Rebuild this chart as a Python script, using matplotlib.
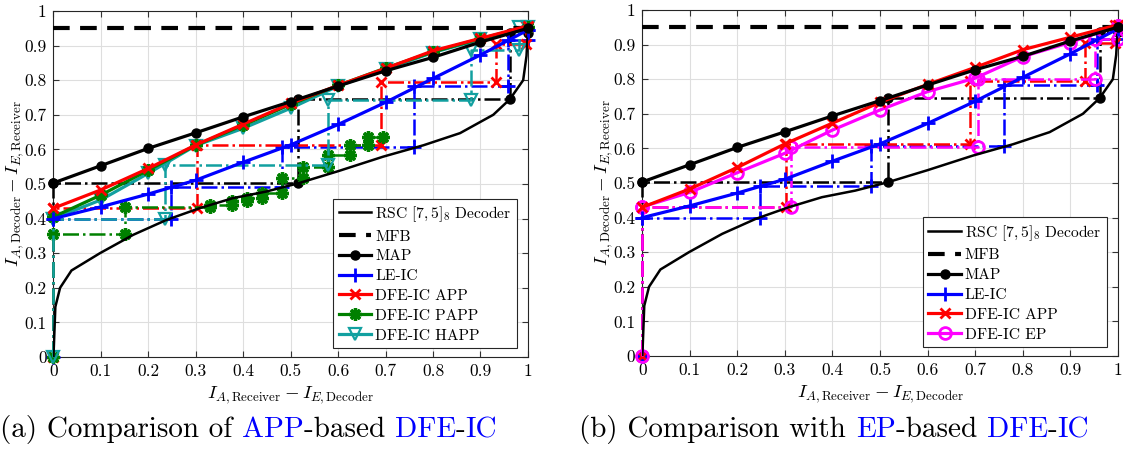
import numpy as np
import matplotlib
matplotlib.use("Agg")
from matplotlib import pyplot as plt

plt.rcParams["font.family"] = ["cmr10", "DejaVu Serif"]
plt.rcParams["mathtext.fontset"] = "cm"
plt.rcParams["axes.formatter.use_mathtext"] = True
plt.rcParams["axes.unicode_minus"] = False

# EXIT curves
x_grid = [0, 0.1, 0.2, 0.3, 0.4, 0.5, 0.6, 0.7, 0.8, 0.9, 1.0]

dec_x = [0, 0.004, 0.014, 0.038, 0.098, 0.168, 0.238, 0.308, 0.378, 0.448,
         0.516, 0.6, 0.695, 0.78, 0.857, 0.927, 0.962, 0.99, 0.997, 1.0]
dec_y = [0, 0.145, 0.2, 0.25, 0.3, 0.353, 0.396, 0.43, 0.459, 0.478,
         0.502, 0.537, 0.579, 0.612, 0.647, 0.70, 0.745, 0.80, 0.87, 0.945]

mfb_x = [0, 1.0]
mfb_y = [0.95, 0.95]

map_y = [0.503, 0.553, 0.603, 0.648, 0.694, 0.738, 0.783, 0.827, 0.866, 0.91, 0.95]
le_y = [0.40, 0.434, 0.471, 0.511, 0.563, 0.613, 0.672, 0.736, 0.805, 0.873, 0.945]
app_y = [0.43, 0.483, 0.545, 0.613, 0.673, 0.733, 0.785, 0.834, 0.885, 0.921, 0.957]
papp_y = [0.405, 0.468, 0.54, 0.612, 0.67, 0.73, 0.785, 0.835, 0.882, 0.92, 0.955]
happ_y = [0.40, 0.454, 0.531, 0.611, 0.661, 0.719, 0.783, 0.832, 0.88, 0.918, 0.955]
ep_y = [0.431, 0.473, 0.53, 0.586, 0.653, 0.711, 0.764, 0.803, 0.865, 0.906, 0.954]

# decoding trajectories
map_tx = [0, 0, 0.516, 0.516, 0.962, 0.962, 1.0, 1.0]
map_ty = [0, 0.503, 0.503, 0.745, 0.745, 0.935, 0.935, 0.95]
le_tx = [0, 0, 0.247, 0.247, 0.481, 0.481, 0.76, 0.76, 0.957, 0.957, 1.0, 1.0]
le_ty = [0, 0.40, 0.40, 0.492, 0.492, 0.608, 0.608, 0.783, 0.783, 0.916, 0.916, 0.945]
app_tx = [0, 0, 0.302, 0.302, 0.69, 0.69, 0.932, 0.932, 0.995, 0.995]
app_ty = [0, 0.43, 0.43, 0.613, 0.613, 0.796, 0.796, 0.905, 0.905, 0.957]
papp_tx = [0, 0, 0.151, 0.151, 0.33, 0.33, 0.376, 0.376, 0.407, 0.407, 0.439, 0.439,
           0.481, 0.481, 0.526, 0.526, 0.579, 0.579, 0.625, 0.625, 0.663, 0.663, 0.695]
papp_ty = [0, 0.355, 0.355, 0.434, 0.434, 0.44, 0.44, 0.45, 0.45, 0.46, 0.46, 0.475,
           0.475, 0.516, 0.516, 0.55, 0.55, 0.584, 0.584, 0.613, 0.613, 0.637, 0.637]
happ_tx = [0, 0, 0.236, 0.236, 0.578, 0.578, 0.881, 0.881, 0.982, 0.982]
happ_ty = [0, 0.40, 0.40, 0.555, 0.555, 0.742, 0.742, 0.887, 0.887, 0.955]
ep_tx = [0, 0, 0.312, 0.312, 0.706, 0.706, 0.953, 0.953, 1.0, 1.0]
ep_ty = [0, 0.431, 0.431, 0.605, 0.605, 0.80, 0.80, 0.915, 0.915, 0.954]

ticks = [0, 0.1, 0.2, 0.3, 0.4, 0.5, 0.6, 0.7, 0.8, 0.9, 1]
tick_labels = ["0", "0.1", "0.2", "0.3", "0.4", "0.5", "0.6", "0.7", "0.8", "0.9", "1"]

asterisk = (8, 2, 0)
styles = {
    "map": dict(color="k", marker="o", ms=6.5, mfc="k"),
    "le": dict(color="b", marker="+", ms=10, mew=2),
    "app": dict(color="r", marker="x", ms=6.5, mew=2),
    "papp": dict(color="green", marker=asterisk, ms=9, mew=2.4),
    "happ": dict(color="#12A0A0", marker="v", ms=8, mfc="none", mew=1.6),
    "ep": dict(color="magenta", marker="o", ms=8.5, mfc="none", mew=2),
}


def setup_axes(ax):
    ax.set_xlim(0, 1)
    ax.set_ylim(0, 1)
    ax.set_xticks(ticks)
    ax.set_xticklabels(tick_labels)
    ax.set_yticks(ticks)
    ax.set_yticklabels(tick_labels)
    ax.tick_params(direction="in", top=True, right=True, labelsize=12.5,
                   length=4, color="0.2", pad=5)
    ax.grid(True, color="0.87", lw=0.8)
    ax.set_axisbelow(True)
    for s in ax.spines.values():
        s.set_color("0.15")
        s.set_linewidth(0.8)
    ax.set_xlabel(r"$I_{A,\mathrm{Receiver}} - I_{E,\mathrm{Decoder}}$", fontsize=13.5, labelpad=4)
    ax.set_ylabel(r"$I_{A,\mathrm{Decoder}} - I_{E,\mathrm{Receiver}}$", fontsize=13.5, labelpad=-1)


def traj(ax, tx, ty, key):
    st = dict(styles[key])
    ax.plot(tx, ty, ls="-.", lw=1.8, clip_on=False, zorder=3, **st)


def curve(ax, y, key, label):
    st = dict(styles[key])
    h, = ax.plot(x_grid, y, ls="-", lw=2.3, clip_on=False, zorder=4, label=label, **st)
    return h


def draw_panel(ax, extra):
    setup_axes(ax)
    traj(ax, map_tx, map_ty, "map")
    traj(ax, le_tx, le_ty, "le")
    traj(ax, app_tx, app_ty, "app")
    if extra == "a":
        traj(ax, papp_tx, papp_ty, "papp")
        traj(ax, happ_tx, happ_ty, "happ")
    else:
        traj(ax, ep_tx, ep_ty, "ep")
    h_dec, = ax.plot(dec_x, dec_y, color="k", lw=1.8, zorder=4,
                     label=r"RSC $[7,5]_8$ Decoder")
    h_mfb, = ax.plot(mfb_x, mfb_y, color="k", lw=3, ls=(0, (4, 2.5)), zorder=4,
                     label="MFB")
    hs = [h_dec, h_mfb]
    if extra == "a":
        h_happ = curve(ax, happ_y, "happ", "DFE-IC HAPP")
        h_papp = curve(ax, papp_y, "papp", "DFE-IC PAPP")
    else:
        h_ep = curve(ax, ep_y, "ep", "DFE-IC EP")
    h_app = curve(ax, app_y, "app", "DFE-IC APP")
    h_le = curve(ax, le_y, "le", "LE-IC")
    h_map = curve(ax, map_y, "map", "MAP")
    hs += [h_map, h_le, h_app]
    if extra == "a":
        hs += [h_papp, h_happ]
    else:
        hs += [h_ep]
    leg = ax.legend(handles=hs, loc="lower right", bbox_to_anchor=(0.977, 0.026),
                    fontsize=11.2, fancybox=False, framealpha=1, edgecolor="0.15",
                    handlelength=2.1, labelspacing=0.38, borderpad=0.35,
                    handletextpad=0.25, borderaxespad=0)
    leg.get_frame().set_linewidth(0.8)
    leg.set_zorder(10)


fig = plt.figure(figsize=(11.23, 4.5), dpi=100)
ax1 = fig.add_axes([0.0476, 0.2067, 0.4225, 0.7689])
ax2 = fig.add_axes([0.5720, 0.2089, 0.4232, 0.7689])
draw_panel(ax1, "a")
draw_panel(ax2, "b")

blue = "#0000FF"
cap_a = [("(a) Comparison of ", "k"), ("APP", blue), ("-based ", "k"), ("DFE", blue),
         ("-", "k"), ("IC", blue)]
cap_b = [("(b) Comparison with ", "k"), ("EP", blue), ("-based ", "k"), ("DFE", blue),
         ("-", "k"), ("IC", blue)]

# captions with blue pieces, laid out piece by piece
renderer = fig.canvas.get_renderer()
for x0, parts in [(0.0, cap_a), (0.516, cap_b)]:
    x = x0
    for s, c in parts:
        t = fig.text(x, 0.028, s, color=c, fontsize=21, va="baseline")
        bb = t.get_window_extent(renderer)
        x += bb.width / fig.bbox.width

fig.savefig("out.png", dpi=100)
